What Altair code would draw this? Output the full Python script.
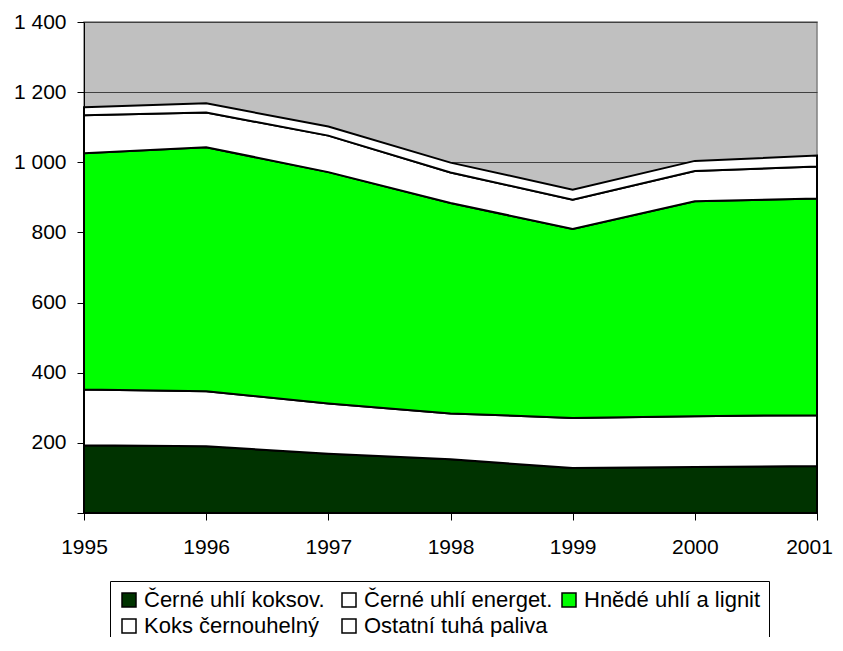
import altair as alt
import pandas as pd

years = [1995, 1996, 1997, 1998, 1999, 2000, 2001]
series = ["Černé uhlí koksov.", "Černé uhlí energet.", "Hnědé uhlí a lignit",
          "Koks černouhelný", "Ostatní tuhá paliva"]
koksov = [193, 190, 169, 153, 128, 131, 134]
energet = [159, 157, 143, 131, 143, 145, 145]
hnede = [674, 696, 660, 600, 539, 613, 618]
koks = [108, 99, 104, 87, 83, 86, 91]
ostatni = [23, 26, 26, 28, 29, 29, 31]
colors = ["#003300", "#FFFFFF", "#00FF00", "#FFFFFF", "#FFFFFF"]
y_ticks = [0, 200, 400, 600, 800, 1000, 1200, 1400]

rows = []
for idx, (name, vals) in enumerate(zip(series, [koksov, energet, hnede, koks, ostatni])):
    for yr, v in zip(years, vals):
        rows.append({"year": yr, "value": v, "series": name, "idx": idx})
df = pd.DataFrame(rows)

FONT = "Liberation Sans"

chart = alt.Chart(df).mark_area(
    stroke="black", strokeWidth=2, opacity=1, strokeJoin="miter"
).encode(
    x=alt.X("year:Q",
            scale=alt.Scale(domain=[1995, 2001], nice=False, zero=False),
            axis=alt.Axis(values=years, format="d", title=None, grid=False,
                          labelFlush=False, labelOverlap=False,
                          labelOffset={"condition": {"test": "datum.value == 2001", "value": -8}, "value": 0},
                          labelPadding=16, tickSize=7)),
    y=alt.Y("value:Q", stack="zero",
            scale=alt.Scale(domain=[0, 1400], nice=False),
            axis=alt.Axis(values=y_ticks, title=None, grid=True,
                          labelExpr="datum.value == 0 ? '' : replace(format(datum.value, ','), ',', ' ')",
                          labelPadding=11, tickSize=7)),
    color=alt.Color("series:N",
                    scale=alt.Scale(domain=series, range=colors),
                    legend=alt.Legend(
                        title=None, orient="none", legendX=26, legendY=559,
                        columns=3, direction="horizontal", gridAlign="all",
                        symbolType="square", symbolSize=196,
                        symbolStrokeColor="black", symbolStrokeWidth=1.5,
                        symbolOpacity=1,
                        labelFont=FONT, labelFontSize=22, labelColor="black",
                        labelLimit=400, labelOffset=4,
                        columnPadding=5, rowPadding=4,
                        padding=8, strokeColor="black", fillColor="white")),
    order=alt.Order("idx:Q"),
).properties(
    width=733, height=491,
    autosize=alt.AutoSizeParams(type="none"),
    padding={"left": 76, "top": 14, "right": 18, "bottom": 124},
).configure_view(
    fill="#C0C0C0", stroke="#808080", strokeWidth=1.5
).configure_axis(
    domainColor="black", tickColor="black", labelColor="black",
    labelFont=FONT, labelFontSize=21, gridColor="#404040", gridWidth=1,
    domainWidth=1
)

chart.save("out.html", embed_options={"renderer": "svg", "actions": False})
